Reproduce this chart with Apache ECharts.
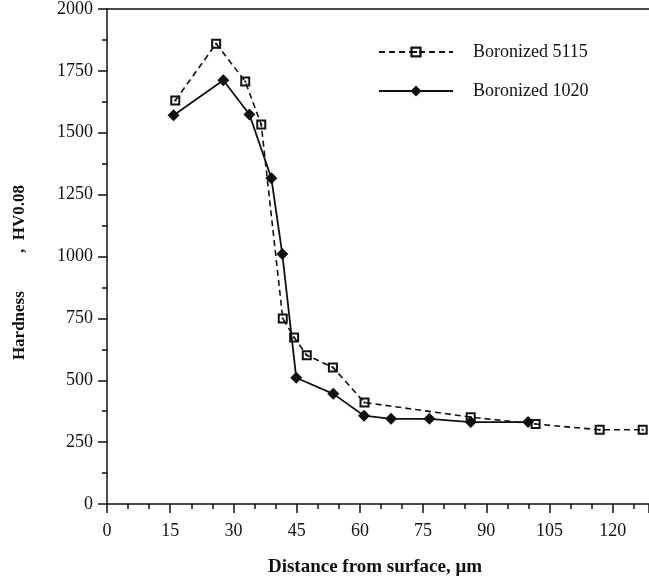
<!DOCTYPE html>
<html>
<head>
<meta charset="utf-8">
<script src="https://cdn.jsdelivr.net/npm/echarts@6/dist/echarts.min.js"></script>
<style>
  html, body { margin: 0; padding: 0; background: #fff; }
  #chart { width: 649px; height: 582px; }
</style>
</head>
<body>
<div id="chart"></div>
<script>
// Data
var xTicks = [0, 15, 30, 45, 60, 75, 90, 105, 120];
var yTicks = [0, 250, 500, 750, 1000, 1250, 1500, 1750, 2000];

var depth5115 = [16.2, 25.9, 32.8, 36.6, 41.7, 44.4, 47.4, 53.6, 61.1, 86.3, 101.7, 116.9, 127.1];
var hard5115 = [1630, 1860, 1707, 1533, 750, 673, 601, 552, 410, 351, 323, 300, 300];

var depth1020 = [15.8, 27.6, 33.8, 39.0, 41.6, 44.9, 53.7, 61.0, 67.4, 76.5, 86.3, 99.9];
var hard1020 = [1571, 1712, 1574, 1316, 1010, 510, 445, 357, 344, 344, 331, 331];

var serif = 'Liberation Serif';
var squareMark = 'path://M0,0H10V10H0Z M2,2V8H8V2Z M4,4H6V6H4Z';

function pairs(xs, ys) {
    var out = [];
    for (var i = 0; i < xs.length; i++) {
        out.push([xs[i], ys[i]]);
    }
    return out;
}

var chart = echarts.init(document.getElementById('chart'));

chart.setOption({
    animation: false,
    backgroundColor: '#fff',
    grid: { left: 107, right: 0, top: 8, bottom: 78 },
    legend: {
        orient: 'vertical',
        left: 373,
        top: 38,
        itemWidth: 74,
        itemHeight: 14,
        itemGap: 21,
        textStyle: { fontFamily: serif, fontSize: 18, color: '#111', padding: [0, 0, 0, 15] },
        data: ['Boronized 5115', 'Boronized 1020']
    },
    xAxis: [{
        type: 'value',
        min: 0,
        max: 128.6,
        interval: 15,
        name: 'Distance from surface, \u03bcm',
        nameLocation: 'middle',
        nameGap: 54,
        nameTextStyle: { fontFamily: serif, fontSize: 19, fontWeight: 'bold', color: '#111', padding: [0, 6, 0, 0] },
        axisLine: { lineStyle: { color: '#111', width: 1.5 } },
        axisTick: { inside: false, length: 9, lineStyle: { color: '#111', width: 1.5 } },
        minorTick: { show: true, splitNumber: 3, length: 5, lineStyle: { color: '#111', width: 1.5 } },
        axisLabel: {
            fontFamily: serif, fontSize: 18, color: '#111', margin: 18,
            showMaxLabel: false,
            formatter: function (v) { return xTicks.indexOf(v) >= 0 ? String(v) : ''; }
        },
        splitLine: { show: false }
    }, {
        type: 'value',
        position: 'top',
        min: 0,
        max: 128.6,
        axisLine: { show: true, lineStyle: { color: '#111', width: 1.5 } },
        axisTick: { show: false },
        axisLabel: { show: false },
        splitLine: { show: false }
    }],
    yAxis: {
        type: 'value',
        min: 0,
        max: 2000,
        interval: 250,
        name: 'Hardness         ,  HV0.08',
        nameLocation: 'middle',
        nameGap: 79,
        nameTextStyle: { fontFamily: serif, fontSize: 17, fontWeight: 'bold', color: '#111', padding: [0, 32, 0, 0] },
        axisLine: { show: true, lineStyle: { color: '#111', width: 1.5 } },
        axisTick: { length: 9, lineStyle: { color: '#111', width: 1.5 } },
        minorTick: { show: true, splitNumber: 2, length: 5, lineStyle: { color: '#111', width: 1.5 } },
        axisLabel: {
            fontFamily: serif, fontSize: 18, color: '#111', margin: 14,
            formatter: function (v) { return yTicks.indexOf(v) >= 0 ? String(v) : ''; }
        },
        splitLine: { show: false }
    },
    series: [{
        name: 'Boronized 5115',
        type: 'line',
        data: pairs(depth5115, hard5115),
        symbol: squareMark,
        symbolSize: 10,
        itemStyle: { color: '#111' },
        lineStyle: { color: '#111', width: 1.6, type: [6, 4] },
        z: 3
    }, {
        name: 'Boronized 1020',
        type: 'line',
        data: pairs(depth1020, hard1020),
        symbol: 'diamond',
        symbolSize: 12,
        itemStyle: { color: '#111' },
        lineStyle: { color: '#111', width: 1.8 },
        z: 2
    }]
});
</script>
</body>
</html>
